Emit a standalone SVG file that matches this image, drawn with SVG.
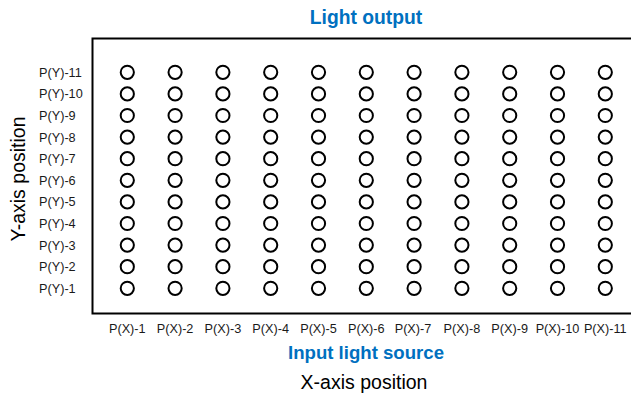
<svg xmlns="http://www.w3.org/2000/svg" xmlns:xlink="http://www.w3.org/1999/xlink" width="631" height="394" viewBox="0 0 631 394">
<style>
.lbl{font-family:"Liberation Sans",Arial,sans-serif;font-size:12.7px;fill:#1a1a1a}
.xl{text-anchor:middle}
.blue{font-family:"Liberation Sans",Arial,sans-serif;font-weight:bold;fill:#0070C0;text-anchor:middle}
.axis{font-family:"Liberation Sans",Arial,sans-serif;font-size:19.5px;fill:#000;text-anchor:middle}
.dot{fill:none;stroke:#000;stroke-width:2}
</style>
<defs><circle id="dot" class="dot" cx="0" cy="0" r="6.6"/></defs>
<rect width="631" height="394" fill="#fff"/>
<g id="frame"><path d="M640 38.5 H92.5 V313.5 H640" fill="none" stroke="#000" stroke-width="2"/></g>
<g id="title-top"><text class="blue" x="366" y="24" font-size="19.3">Light output</text></g>
<g id="title-bottom"><text class="blue" x="366" y="358.5" font-size="18.6">Input light source</text></g>
<g id="x-axis-title"><text class="axis" x="364" y="389">X-axis position</text></g>
<g id="y-axis-title"><text class="axis" transform="translate(25,179) rotate(-90)">Y-axis position</text></g>
<g id="y-labels" class="lbl">
<text x="39" y="76.7">P(Y)-11</text>
<text x="39" y="98.3">P(Y)-10</text>
<text x="39" y="119.9">P(Y)-9</text>
<text x="39" y="141.5">P(Y)-8</text>
<text x="39" y="163.1">P(Y)-7</text>
<text x="39" y="184.7">P(Y)-6</text>
<text x="39" y="206.3">P(Y)-5</text>
<text x="39" y="227.9">P(Y)-4</text>
<text x="39" y="249.5">P(Y)-3</text>
<text x="39" y="271.1">P(Y)-2</text>
<text x="39" y="292.7">P(Y)-1</text>
</g>
<g id="x-labels" class="lbl xl">
<text x="127.3" y="333">P(X)-1</text>
<text x="175.1" y="333">P(X)-2</text>
<text x="222.9" y="333">P(X)-3</text>
<text x="270.7" y="333">P(X)-4</text>
<text x="318.5" y="333">P(X)-5</text>
<text x="366.3" y="333">P(X)-6</text>
<text x="413" y="333">P(X)-7</text>
<text x="461.9" y="333">P(X)-8</text>
<text x="509.7" y="333">P(X)-9</text>
<text x="557.5" y="333">P(X)-10</text>
<text x="605.3" y="333">P(X)-11</text>
</g>
<g id="points">
<g id="col-1" transform="translate(127.3,0)"><use href="#dot" y="72.3"/><use href="#dot" y="93.9"/><use href="#dot" y="115.5"/><use href="#dot" y="137.1"/><use href="#dot" y="158.7"/><use href="#dot" y="180.3"/><use href="#dot" y="201.9"/><use href="#dot" y="223.5"/><use href="#dot" y="245.1"/><use href="#dot" y="266.7"/><use href="#dot" y="288.3"/></g>
<g id="col-2" transform="translate(175.1,0)"><use href="#dot" y="72.3"/><use href="#dot" y="93.9"/><use href="#dot" y="115.5"/><use href="#dot" y="137.1"/><use href="#dot" y="158.7"/><use href="#dot" y="180.3"/><use href="#dot" y="201.9"/><use href="#dot" y="223.5"/><use href="#dot" y="245.1"/><use href="#dot" y="266.7"/><use href="#dot" y="288.3"/></g>
<g id="col-3" transform="translate(222.9,0)"><use href="#dot" y="72.3"/><use href="#dot" y="93.9"/><use href="#dot" y="115.5"/><use href="#dot" y="137.1"/><use href="#dot" y="158.7"/><use href="#dot" y="180.3"/><use href="#dot" y="201.9"/><use href="#dot" y="223.5"/><use href="#dot" y="245.1"/><use href="#dot" y="266.7"/><use href="#dot" y="288.3"/></g>
<g id="col-4" transform="translate(270.7,0)"><use href="#dot" y="72.3"/><use href="#dot" y="93.9"/><use href="#dot" y="115.5"/><use href="#dot" y="137.1"/><use href="#dot" y="158.7"/><use href="#dot" y="180.3"/><use href="#dot" y="201.9"/><use href="#dot" y="223.5"/><use href="#dot" y="245.1"/><use href="#dot" y="266.7"/><use href="#dot" y="288.3"/></g>
<g id="col-5" transform="translate(318.5,0)"><use href="#dot" y="72.3"/><use href="#dot" y="93.9"/><use href="#dot" y="115.5"/><use href="#dot" y="137.1"/><use href="#dot" y="158.7"/><use href="#dot" y="180.3"/><use href="#dot" y="201.9"/><use href="#dot" y="223.5"/><use href="#dot" y="245.1"/><use href="#dot" y="266.7"/><use href="#dot" y="288.3"/></g>
<g id="col-6" transform="translate(366.3,0)"><use href="#dot" y="72.3"/><use href="#dot" y="93.9"/><use href="#dot" y="115.5"/><use href="#dot" y="137.1"/><use href="#dot" y="158.7"/><use href="#dot" y="180.3"/><use href="#dot" y="201.9"/><use href="#dot" y="223.5"/><use href="#dot" y="245.1"/><use href="#dot" y="266.7"/><use href="#dot" y="288.3"/></g>
<g id="col-7" transform="translate(414.1,0)"><use href="#dot" y="72.3"/><use href="#dot" y="93.9"/><use href="#dot" y="115.5"/><use href="#dot" y="137.1"/><use href="#dot" y="158.7"/><use href="#dot" y="180.3"/><use href="#dot" y="201.9"/><use href="#dot" y="223.5"/><use href="#dot" y="245.1"/><use href="#dot" y="266.7"/><use href="#dot" y="288.3"/></g>
<g id="col-8" transform="translate(461.9,0)"><use href="#dot" y="72.3"/><use href="#dot" y="93.9"/><use href="#dot" y="115.5"/><use href="#dot" y="137.1"/><use href="#dot" y="158.7"/><use href="#dot" y="180.3"/><use href="#dot" y="201.9"/><use href="#dot" y="223.5"/><use href="#dot" y="245.1"/><use href="#dot" y="266.7"/><use href="#dot" y="288.3"/></g>
<g id="col-9" transform="translate(509.7,0)"><use href="#dot" y="72.3"/><use href="#dot" y="93.9"/><use href="#dot" y="115.5"/><use href="#dot" y="137.1"/><use href="#dot" y="158.7"/><use href="#dot" y="180.3"/><use href="#dot" y="201.9"/><use href="#dot" y="223.5"/><use href="#dot" y="245.1"/><use href="#dot" y="266.7"/><use href="#dot" y="288.3"/></g>
<g id="col-10" transform="translate(557.5,0)"><use href="#dot" y="72.3"/><use href="#dot" y="93.9"/><use href="#dot" y="115.5"/><use href="#dot" y="137.1"/><use href="#dot" y="158.7"/><use href="#dot" y="180.3"/><use href="#dot" y="201.9"/><use href="#dot" y="223.5"/><use href="#dot" y="245.1"/><use href="#dot" y="266.7"/><use href="#dot" y="288.3"/></g>
<g id="col-11" transform="translate(605.3,0)"><use href="#dot" y="72.3"/><use href="#dot" y="93.9"/><use href="#dot" y="115.5"/><use href="#dot" y="137.1"/><use href="#dot" y="158.7"/><use href="#dot" y="180.3"/><use href="#dot" y="201.9"/><use href="#dot" y="223.5"/><use href="#dot" y="245.1"/><use href="#dot" y="266.7"/><use href="#dot" y="288.3"/></g>
</g>
</svg>
